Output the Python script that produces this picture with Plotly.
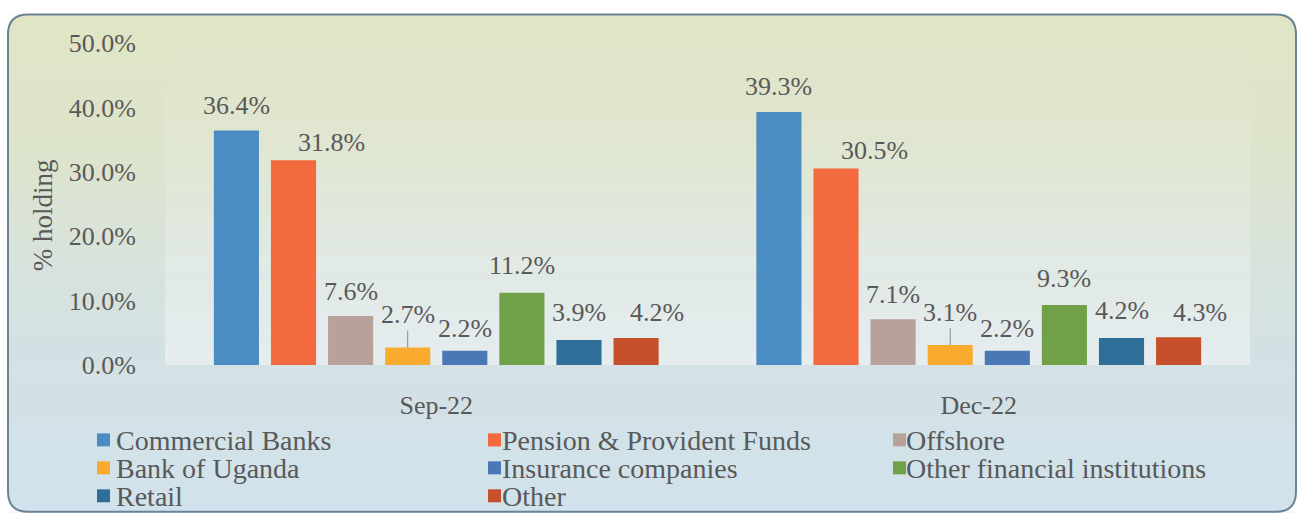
import plotly.graph_objects as go

# ---- data -------------------------------------------------------------
periods = ["Sep-22", "Dec-22"]
holders = [
    "Commercial Banks",
    "Pension & Provident Funds",
    "Offshore",
    "Bank of Uganda",
    "Insurance companies",
    "Other financial institutions",
    "Retail",
    "Other",
]
sep_22 = [36.4, 31.8, 7.6, 2.7, 2.2, 11.2, 3.9, 4.2]
dec_22 = [39.3, 30.5, 7.1, 3.1, 2.2, 9.3, 4.2, 4.3]
y_ticks = [0, 10, 20, 30, 40, 50]
y_tick_text = ["%.1f%%" % v for v in y_ticks]

# ---- styling ------------------------------------------------------------
colors = ["#4b8dc2", "#f36a3e", "#b9a19b", "#f8ab2e",
          "#4a78b5", "#70a048", "#2f6e98", "#c6502b"]
# data-label nudges per series: (dx px, dy px above bar top, leader line?)
label_nudge = [(0, 25, False), (38, 18, False), (0, 25, False), (0, 33, True),
               (0, 22, False), (0, 27, False), (0, 27, False), (21, 25, False)]

FONT = "Liberation Serif, Times New Roman, serif"
GREY = "#595959"
BARGAP, GROUPGAP = 0.158, 0.21

# ---- page geometry (pixels) -----------------------------------------
W, H = 1298, 517
L, R, T, B = 165, 1250, 42.5, 365          # plot area box
PW, PH = R - L, B - T


def px(x):
    return (x - L) / PW


def py(y):
    return (B - y) / PH


fig = go.Figure()
for i, name in enumerate(holders):
    fig.add_trace(go.Bar(
        x=periods,
        y=[sep_22[i], dec_22[i]],
        name=name,
        marker=dict(color=colors[i], line=dict(width=0)),
        showlegend=False,
        hoverinfo="skip",
    ))

annotations = []

# value labels above each bar (x as category index plus the bar's slot offset)
n = len(holders)
slot = (1 - BARGAP) / n
for i in range(n):
    dx, dy, leader = label_nudge[i]
    for c, vals in enumerate([sep_22, dec_22]):
        v = vals[i]
        annotations.append(dict(
            x=c + (i - (n - 1) / 2) * slot, y=v, xref="x", yref="y",
            text="%.1f%%" % v, showarrow=True, ax=dx, ay=-dy,
            arrowhead=0, arrowwidth=1, standoff=0,
            arrowcolor="#8a8a8a" if leader else "rgba(0,0,0,0)",
            font=dict(family=FONT, size=26, color=GREY),
        ))

shapes = []

# soft vertical background wash inside the frame
stops = [(14, (224, 229, 197)), (150, (221, 228, 204)), (250, (216, 227, 218)),
         (350, (212, 225, 228)), (512, (209, 226, 236))]


def wash(yp):
    for (y0, c0), (y1, c1) in zip(stops[:-1], stops[1:]):
        if y0 <= yp <= y1:
            t = (yp - y0) / (y1 - y0)
            return tuple(round(a + (b - a) * t) for a, b in zip(c0, c1))
    return stops[-1][1]


fx0, fx1, fy0, fy1, rad = 8, 1296, 14, 512, 20
n_strips = 60
step = (fy1 - fy0) / n_strips
for k in range(n_strips):
    ya = fy0 + k * step
    yb = ya + step + 0.6
    col = wash(ya + step / 2)
    shapes.append(dict(type="rect", xref="paper", yref="paper", layer="below",
                       x0=px(fx0), x1=px(fx1), y0=py(yb), y1=py(ya),
                       fillcolor="rgb(%d,%d,%d)" % col, line=dict(width=0)))

# plot area: faint white veil, stronger towards the baseline
n_veil = 30
vstep = PH / n_veil
for k in range(n_veil):
    ya = T + k * vstep
    alpha = 0.04 + 0.36 * (k / (n_veil - 1)) ** 1.5
    shapes.append(dict(type="rect", xref="paper", yref="paper", layer="below",
                       x0=0, x1=1, y0=py(ya + vstep), y1=py(ya),
                       fillcolor="rgba(255,255,255,%.3f)" % alpha, line=dict(width=0)))


def P(x, y):
    return "%.5f,%.5f" % (px(x), py(y))


# white corner masks so the wash follows the rounded frame
corners = [
    (fx0, fy0, fx0 + rad, fy0, fx0, fy0 + rad),
    (fx1, fy0, fx1 - rad, fy0, fx1, fy0 + rad),
    (fx0, fy1, fx0 + rad, fy1, fx0, fy1 - rad),
    (fx1, fy1, fx1 - rad, fy1, fx1, fy1 - rad),
]
for cx, cy, ax_, ay_, bx, by in corners:
    path = "M%s L%s Q%s %s Z" % (P(cx, cy), P(ax_, ay_), P(cx, cy), P(bx, by))
    shapes.append(dict(type="path", xref="paper", yref="paper", layer="below",
                       path=path, fillcolor="white", line=dict(width=0)))

# rounded frame
frame = ("M%s L%s Q%s %s L%s Q%s %s L%s Q%s %s L%s Q%s %s Z" % (
    P(fx0 + rad, fy0), P(fx1 - rad, fy0), P(fx1, fy0), P(fx1, fy0 + rad),
    P(fx1, fy1 - rad), P(fx1, fy1), P(fx1 - rad, fy1),
    P(fx0 + rad, fy1), P(fx0, fy1), P(fx0, fy1 - rad),
    P(fx0, fy0 + rad), P(fx0, fy0), P(fx0 + rad, fy0)))
shapes.append(dict(type="path", xref="paper", yref="paper", layer="above",
                   path=frame, line=dict(color="#6a8496", width=2)))

# legend: three columns of coloured squares and names
col_marker = [97, 488, 893]
col_text = [114, 500, 904]
row_y = [440, 468, 496]
sq = 13
for i, name in enumerate(holders):
    c, r = i % 3, i // 3
    xm, ym = col_marker[c], row_y[r]
    shapes.append(dict(type="rect", xref="paper", yref="paper", layer="above",
                       x0=px(xm), x1=px(xm + sq), y0=py(ym + sq / 2), y1=py(ym - sq / 2),
                       fillcolor=colors[i], line=dict(width=0)))
    annotations.append(dict(xref="paper", yref="paper", x=px(col_text[c]), y=py(ym + 1),
                            xanchor="left", yanchor="middle", showarrow=False,
                            text=name, font=dict(family=FONT, size=28, color=GREY)))

# y-axis title
annotations.append(dict(xref="paper", yref="paper", x=px(43), y=py(215),
                        xanchor="center", yanchor="middle", showarrow=False,
                        textangle=-90, text="% holding",
                        font=dict(family=FONT, size=27, color=GREY)))

fig.update_layout(
    width=W, height=H,
    margin=dict(l=L, r=W - R, t=T, b=H - B, pad=0),
    paper_bgcolor="white",
    plot_bgcolor="rgba(0,0,0,0)",
    barmode="group",
    bargap=BARGAP,
    bargroupgap=GROUPGAP,
    shapes=shapes,
    annotations=annotations,
    showlegend=False,
    font=dict(family=FONT, color=GREY),
)
fig.update_xaxes(
    type="category", showgrid=False, zeroline=False, showline=False,
    ticks="", ticklabelstandoff=22,
    tickfont=dict(family=FONT, size=26, color=GREY),
)
fig.update_yaxes(
    range=[0, 50], tickvals=y_ticks, ticktext=y_tick_text,
    showgrid=False, zeroline=False, showline=False, ticks="",
    ticklabelstandoff=28,
    tickfont=dict(family=FONT, size=26, color=GREY),
)

fig.write_html("out.html")
